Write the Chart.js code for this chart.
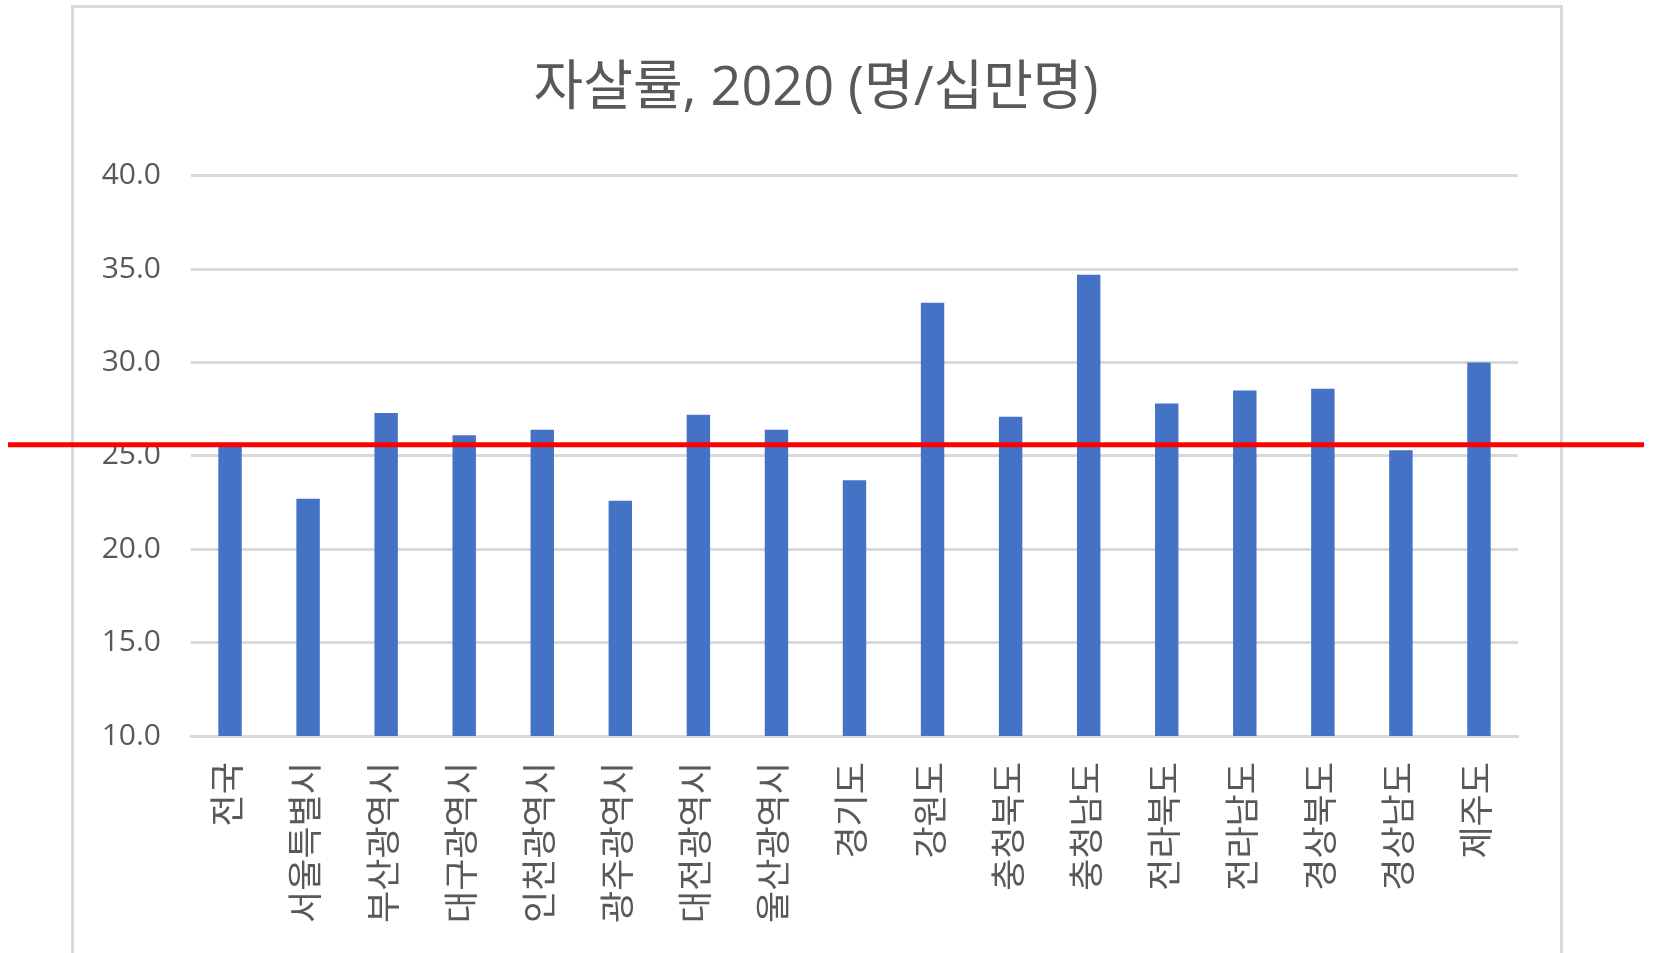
<!DOCTYPE html>
<html lang="ko">
<head>
<meta charset="utf-8">
<title>자살률, 2020</title>
<script src="https://cdn.jsdelivr.net/npm/chart.js@4"></script>
<style>
    html, body { margin: 0; padding: 0; background: #ffffff; overflow: hidden; }
    #wrap { position: relative; width: 1656px; height: 953px; }
    #frame {
        position: absolute; left: 71px; top: 5px; width: 1492px; height: 1000px;
        border: 3px solid #d9d9d9; box-sizing: border-box;
    }
    #chart { position: absolute; left: 0; top: 0; }
</style>
</head>
<body>
<div id="wrap">
    <div id="frame"></div>
    <canvas id="chart" width="1656" height="953"></canvas>
</div>
<script>
// 지역별 자살률 (명/십만명), 2020
const regions = ['전국', '서울특별시', '부산광역시', '대구광역시', '인천광역시', '광주광역시',
    '대전광역시', '울산광역시', '경기도', '강원도', '충청북도', '충청남도',
    '전라북도', '전라남도', '경상북도', '경상남도', '제주도'];
const rates = [25.7, 22.7, 27.3, 26.1, 26.4, 22.6, 27.2, 26.4, 23.7,
    33.2, 27.1, 34.7, 27.8, 28.5, 28.6, 25.3, 30.0];
const nationalAvg = 25.6;
const yTicks = [10, 15, 20, 25, 30, 35, 40];

const fontFamily = '"Open Sans", "Noto Sans CJK KR", sans-serif';
const textColor = '#595959';

// 전국 평균 빨간 기준선
const avgLinePlugin = {
    id: 'avgLine',
    afterDatasetsDraw(chart) {
        const ctx = chart.ctx;
        const y = chart.scales.y.getPixelForValue(nationalAvg);
        ctx.save();
        ctx.strokeStyle = '#ff0000';
        ctx.lineWidth = 5;
        ctx.beginPath();
        ctx.moveTo(8, y);
        ctx.lineTo(chart.width - 12, y);
        ctx.stroke();
        ctx.restore();
    }
};

const ctx = document.getElementById('chart').getContext('2d');
new Chart(ctx, {
    type: 'bar',
    data: {
        labels: regions,
        datasets: [{
            data: rates,
            backgroundColor: '#4472c4',
            borderWidth: 0,
            categoryPercentage: 1.0,
            barPercentage: 0.3
        }]
    },
    options: {
        responsive: false,
        animation: false,
        layout: {
            padding: { left: 0, right: 24, top: 0, bottom: 0 }
        },
        plugins: {
            legend: { display: false },
            tooltip: { enabled: false },
            title: {
                display: true,
                text: '자살률, 2020 (명/십만명)',
                color: textColor,
                font: { family: fontFamily, size: 54, weight: 'normal', lineHeight: 1.2 },
                padding: { top: 57, bottom: 54 }
            }
        },
        scales: {
            x: {
                grid: { display: false, drawTicks: false },
                border: { display: true, color: '#d9d9d9', width: 3 },
                ticks: {
                    color: textColor,
                    font: { family: fontFamily, size: 35 },
                    minRotation: 90,
                    maxRotation: 90,
                    autoSkip: false,
                    padding: 26
                },
                afterFit(scale) { scale.height = 217; }
            },
            y: {
                min: 10,
                max: 40,
                afterBuildTicks(scale) {
                    scale.ticks = yTicks.map(v => ({ value: v }));
                },
                grid: { color: '#d9d9d9', lineWidth: 3, drawTicks: false },
                border: { display: false },
                ticks: {
                    color: textColor,
                    font: { family: fontFamily, size: 30 },
                    padding: 30,
                    callback: v => Number(v).toFixed(1)
                },
                afterFit(scale) { scale.width = 191; }
            },
            // 오른쪽 여백용 빈 축 (제목을 테두리 중앙에 맞추기 위함)
            yRight: {
                position: 'right',
                display: true,
                grid: { display: false, drawTicks: false },
                border: { display: false },
                ticks: { display: false },
                afterFit(scale) { scale.width = 114; }
            }
        }
    },
    plugins: [avgLinePlugin]
});
</script>
</body>
</html>
